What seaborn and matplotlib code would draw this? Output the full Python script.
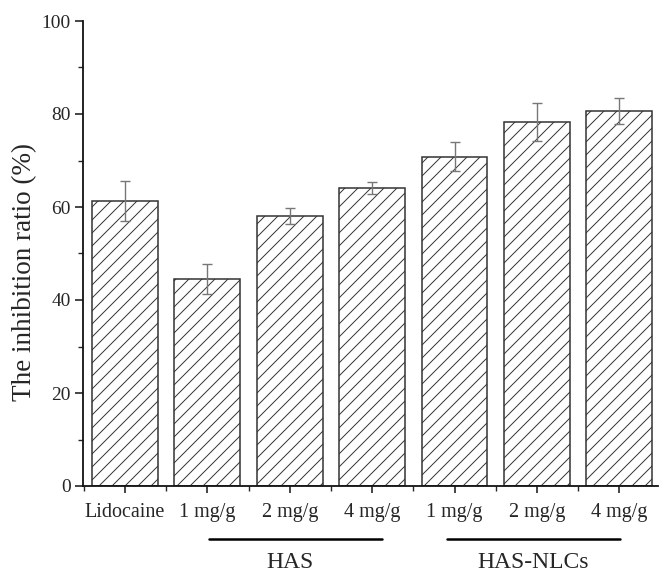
import matplotlib
matplotlib.use("Agg")
import matplotlib.pyplot as plt
import matplotlib.transforms as mtransforms
from matplotlib.ticker import MultipleLocator, FixedLocator
import seaborn as sns
import pandas as pd

keys = ["Lidocaine", "HAS 1", "HAS 2", "HAS 4", "NLC 1", "NLC 2", "NLC 4"]
tick_labels = ["Lidocaine", "1 mg/g", "2 mg/g", "4 mg/g", "1 mg/g", "2 mg/g", "4 mg/g"]
means = [61.3, 44.5, 58.1, 64.1, 70.8, 78.3, 80.6]
errors = [4.3, 3.2, 1.7, 1.2, 3.1, 4.0, 2.8]
groups = ["HAS", "HAS-NLCs"]

DPI = 78
S = 100 / DPI  # scale so sizes match a 100-dpi layout

sns.set_style("ticks")
plt.rcParams["font.family"] = ["Liberation Serif", "DejaVu Serif"]
plt.rcParams["hatch.linewidth"] = 0.7 * S

df = pd.DataFrame({"key": keys, "value": means})

fig = plt.figure(figsize=(660 / DPI, 573 / DPI), dpi=DPI)
ax = fig.add_axes([83/660, 1 - 486/573, (658-83)/660, (486-21)/573])

sns.barplot(data=df, x="key", y="value", order=keys, ax=ax, width=0.8,
            color="white", edgecolor="#333333", linewidth=1.1 * S, errorbar=None)
for p in ax.patches:
    p.set_hatch("//")
    p.set_facecolor("white")
    p.set_edgecolor("#333333")

ax.errorbar(range(len(keys)), means, yerr=errors, fmt="none",
            ecolor="#777777", elinewidth=1.0 * S, capsize=3.5 * S, capthick=1.0 * S)

ax.set_xlim(-0.51, 6.47)
ax.set_ylim(0, 100)
ax.yaxis.set_major_locator(MultipleLocator(20))
ax.yaxis.set_minor_locator(MultipleLocator(10))
ax.set_xticks(range(len(keys)))
ax.set_xticklabels(tick_labels, fontsize=14.5 * S)
ax.xaxis.set_minor_locator(FixedLocator([i + 0.5 for i in range(-1, len(keys))]))
ax.tick_params(axis="y", labelsize=14 * S, direction="out", length=6 * S, width=1.2 * S, pad=3 * S)
ax.tick_params(axis="y", which="minor", length=3.5 * S, width=1.0 * S)
ax.tick_params(axis="x", direction="out", length=5 * S, width=1.2 * S, pad=7 * S)
ax.tick_params(axis="x", which="minor", length=3.5 * S, width=1.0 * S)
ax.set_xlabel("")
ax.set_ylabel("The inhibition ratio (%)", fontsize=19.5 * S)
ax.yaxis.set_label_coords(-0.080, 0.46)
for s in ["top", "right"]:
    ax.spines[s].set_visible(False)
for s in ["left", "bottom"]:
    ax.spines[s].set_linewidth(1.3 * S)
    ax.spines[s].set_color("#111111")

trans = mtransforms.blended_transform_factory(ax.transData, ax.transAxes)
spans = [(1.02, 3.12), (3.91, 6.01)]
text_shift = [-0.07, 0.0]
for (x0, x1), name, dx in zip(spans, groups, text_shift):
    ax.plot([x0, x1], [-0.114, -0.114], color="black", lw=1.8 * S,
            transform=trans, clip_on=False)
    ax.text((x0 + x1) / 2 + dx, -0.165, name, transform=trans, ha="center",
            va="center", fontsize=17 * S)

fig.savefig("out.png", dpi=DPI)
